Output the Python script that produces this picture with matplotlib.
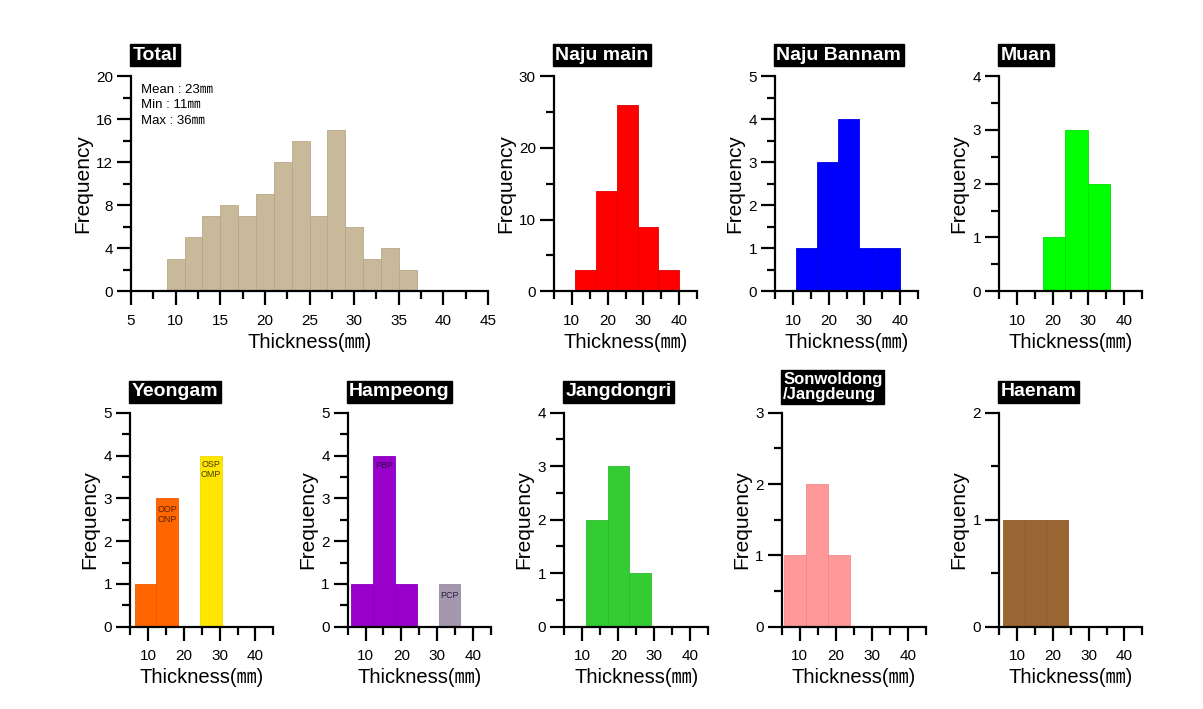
import numpy as np
import matplotlib
matplotlib.use('Agg')
import matplotlib.pyplot as plt
from matplotlib.ticker import MultipleLocator

plt.rcParams['font.family'] = ['Liberation Sans', 'Noto Sans CJK KR', 'DejaVu Sans']

# bin edges and counts
total_edges = [9, 11, 13, 15, 17, 19, 21, 23, 25, 27, 29, 31, 33, 35, 37]
total_counts = [3, 5, 7, 8, 7, 9, 12, 14, 7, 15, 6, 3, 4, 2]

najumain_edges = [11, 16.8, 22.6, 28.4, 34.2, 40]
najumain_counts = [3, 14, 26, 9, 3]

bannam_edges = [11, 16.8, 22.6, 28.4, 34.2, 40]
bannam_counts = [1, 3, 4, 1, 1]

muan_edges = [17.4, 23.6, 29.8, 36]
muan_counts = [1, 3, 2]

yeongam_edges_a = [6.2, 12.3, 18.4]
yeongam_counts_a = [1, 3]
yeongam_edges_b = [24.5, 30.6]
yeongam_counts_b = [4]

hampeong_edges_a = [6, 12.1, 18.2, 24.3]
hampeong_counts_a = [1, 4, 1]
hampeong_edges_b = [30.4, 36.5]
hampeong_counts_b = [1]

jang_edges = [11, 17, 23, 29]
jang_counts = [2, 3, 1]

sonwol_edges = [5.6, 11.7, 17.8, 23.9]
sonwol_counts = [1, 2, 1]

haenam_edges = [6, 12.1, 18.2, 24.3]
haenam_counts = [1, 1, 1]

W, H = 1203, 709
fig = plt.figure(figsize=(W / 100, H / 100), dpi=100)


def make_ax(x0, x1, y0, y1):
    return fig.add_axes([x0 / W, 1 - y1 / H, (x1 - x0) / W, (y1 - y0) / H])


def bars(ax, edges, counts, color, edge):
    edges = np.array(edges)
    ax.bar(edges[:-1], counts, width=np.diff(edges), align='edge',
           color=color, edgecolor=edge, linewidth=0.6)


def style(ax, title, ymax, ymaj, ymin, total=False, tsize=14, toff=9, tls=0.8):
    for s in ['top', 'right']:
        ax.spines[s].set_visible(False)
    for s in ['left', 'bottom']:
        ax.spines[s].set_linewidth(1.6)
    ax.set_xlim(5, 45)
    ax.set_ylim(0, ymax)
    if total:
        ax.xaxis.set_major_locator(MultipleLocator(5))
        ax.xaxis.set_minor_locator(MultipleLocator(2.5))
    else:
        ax.set_xticks([10, 20, 30, 40])
        ax.set_xticks([5, 15, 25, 35, 45], minor=True)
    ax.yaxis.set_major_locator(MultipleLocator(ymaj))
    ax.yaxis.set_minor_locator(MultipleLocator(ymin))
    ax.tick_params(which='major', direction='out', length=10, width=1.6,
                   labelsize=11, pad=3)
    ax.tick_params(axis='x', which='major', pad=6)
    ax.tick_params(which='minor', direction='out', length=5.5, width=1.6)
    ax.set_xlabel('Thickness(㎜)', fontsize=14.5, labelpad=4)
    ax.set_ylabel('Frequency', fontsize=15, labelpad=3)
    ax.annotate(title, xy=(0, 1), xycoords='axes fraction',
                xytext=(1, toff), textcoords='offset points',
                ha='left', va='bottom', color='white', fontsize=tsize,
                fontweight='bold', linespacing=tls,
                bbox=dict(boxstyle='square,pad=0.12', facecolor='black',
                          edgecolor='black'))


ytop, ybot = 76, 291.3
ytop2, ybot2 = 412.7, 626.7

ax = make_ax(131, 488, ytop, ybot)
bars(ax, total_edges, total_counts, '#C9B99B', '#B8A888')
style(ax, 'Total', 20, 4, 2, total=True)
ax.text(0.028, 0.965, 'Mean : 23㎜\nMin : 11㎜\nMax : 36㎜', transform=ax.transAxes,
        ha='left', va='top', fontsize=9.5, linespacing=1.4)

ax = make_ax(554, 697, ytop, ybot)
bars(ax, najumain_edges, najumain_counts, '#FF0000', '#E00000')
style(ax, 'Naju main', 30, 10, 5)

ax = make_ax(775, 918, ytop, ybot)
bars(ax, bannam_edges, bannam_counts, '#0000FF', '#0000E0')
style(ax, 'Naju Bannam', 5, 1, 0.5)

ax = make_ax(999, 1142, ytop, ybot)
bars(ax, muan_edges, muan_counts, '#00FF00', '#00E000')
style(ax, 'Muan', 4, 1, 0.5)

ax = make_ax(130.3, 273.3, ytop2, ybot2)
bars(ax, yeongam_edges_a, yeongam_counts_a, '#FF6600', '#EE5A00')
bars(ax, yeongam_edges_b, yeongam_counts_b, '#FFE600', '#F0D800')
style(ax, 'Yeongam', 5, 1, 0.5)
ax.text(15.35, 2.62, 'OOP\nONP', ha='center', va='center', fontsize=6.5, color='#5A2200')
ax.text(27.55, 3.67, 'OSP\nOMP', ha='center', va='center', fontsize=6.5, color='#4A4000')

ax = make_ax(347.7, 490.7, ytop2, ybot2)
bars(ax, hampeong_edges_a, hampeong_counts_a, '#9900CC', '#8800BB')
bars(ax, hampeong_edges_b, hampeong_counts_b, '#A597AE', '#988AA1')
style(ax, 'Hampeong', 5, 1, 0.5)
ax.text(15.15, 3.77, 'PBP', ha='center', va='center', fontsize=6.5, color='#330044')
ax.text(33.45, 0.74, 'PCP', ha='center', va='center', fontsize=6.5, color='#2A2040')

ax = make_ax(564.3, 708.3, ytop2, ybot2)
bars(ax, jang_edges, jang_counts, '#33CC33', '#2EBB2E')
style(ax, 'Jangdongri', 4, 1, 0.5)

ax = make_ax(781.7, 925.7, ytop2, ybot2)
bars(ax, sonwol_edges, sonwol_counts, '#FF9999', '#EE8A8A')
style(ax, 'Sonwoldong\n/Jangdeung', 3, 1, 0.5, tsize=12, toff=8, tls=0.95)

ax = make_ax(999.3, 1142.3, ytop2, ybot2)
bars(ax, haenam_edges, haenam_counts, '#996633', '#8C5C2C')
style(ax, 'Haenam', 2, 1, 0.5)

fig.savefig('out.png', dpi=100)
